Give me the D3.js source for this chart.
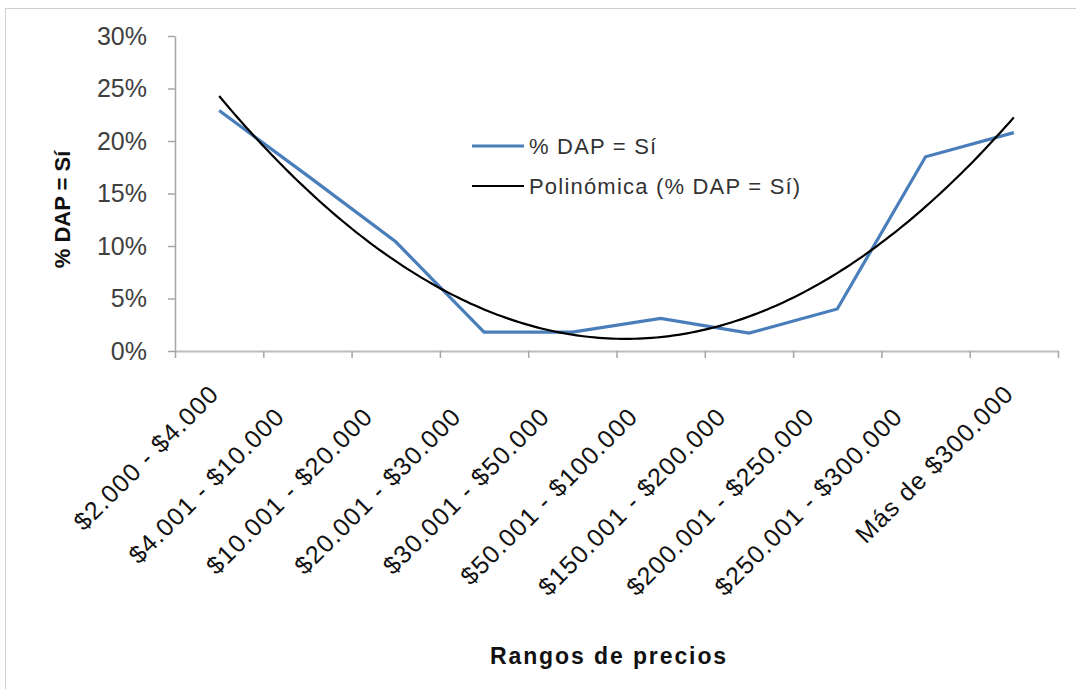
<!DOCTYPE html>
<html>
<head>
<meta charset="utf-8">
<script src="https://cdn.jsdelivr.net/npm/d3@7"></script>
<style>
  html, body { margin: 0; padding: 0; background: #fff; }
  svg { display: block; font-family: "Liberation Sans", Arial, sans-serif; }
</style>
</head>
<body>
<svg id="chart" width="1076" height="689"></svg>
<script>
const categories = ["$2.000 - $4.000", "$4.001 - $10.000", "$10.001 - $20.000", "$20.001 - $30.000",
  "$30.001 - $50.000", "$50.001 - $100.000", "$150.001 - $200.000", "$200.001 - $250.000",
  "$250.001 - $300.000", "Más de $300.000"];
const values = [22.9, 16.7, 10.4, 1.8, 1.8, 3.1, 1.7, 4.0, 18.5, 20.8];
const yTicks = [0, 5, 10, 15, 20, 25, 30];
const seriesName = "% DAP = Sí";
const trendName = "Polinómica (% DAP = Sí)";
const yTitle = "% DAP = Sí";
const xTitle = "Rangos de precios";

(function () {
const svg = d3.select("#chart");
const mLeft = 175, mRight = 1058, mTop = 36, mBottom = 351;

// outer frame
svg.append("rect").attr("x", 5.5).attr("y", 8.5).attr("width", 1090).attr("height", 700)
  .attr("fill", "none").attr("stroke", "#cfcfcf").attr("stroke-width", 1);

const x = d3.scaleBand().domain(categories).range([mLeft, mRight]).padding(0);
const y = d3.scaleLinear().domain([0, 30]).range([mBottom, mTop]);
const xEdge = d3.scaleLinear().domain([0, categories.length]).range([mLeft, mRight]);

// Y axis
const yAxis = svg.append("g").attr("transform", `translate(${mLeft},0)`)
  .call(d3.axisLeft(y).tickValues(yTicks).tickFormat(d => d + "%").tickSize(7).tickSizeOuter(0).tickPadding(21));
yAxis.select(".domain").attr("stroke", "#a6a6a6").attr("stroke-width", 1.5);
yAxis.selectAll(".tick line").attr("stroke", "#a6a6a6").attr("stroke-width", 1.5);
yAxis.selectAll(".tick text").attr("fill", "#404040").attr("font-size", 25)
  .attr("font-family", "'Liberation Sans', Arial, sans-serif");

// X axis (ticks between categories)
const xAxis = svg.append("g").attr("transform", `translate(0,${mBottom})`)
  .call(d3.axisBottom(xEdge).tickValues(d3.range(categories.length + 1)).tickFormat("").tickSize(7).tickSizeOuter(0));
xAxis.select(".domain").attr("stroke", "#bdbdbd").attr("stroke-width", 2);
xAxis.selectAll(".tick line").attr("stroke", "#a6a6a6").attr("stroke-width", 1.5);

// X labels rotated (longer labels sit further down their diagonal, as in the source)
const diag = d => (d.length > 15 ? 32 : 0) / Math.SQRT2;
svg.append("g").selectAll("text").data(categories).join("text")
  .attr("transform", d => `translate(${x(d) + x.bandwidth() / 2 - 5 - diag(d)},${389 + diag(d)}) rotate(-45)`)
  .attr("text-anchor", "end")
  .attr("dominant-baseline", "central")
  .attr("font-size", 25)
  .attr("letter-spacing", 1.2)
  .attr("fill", "#111")
  .text(d => d);

// Axis titles
svg.append("text")
  .attr("transform", `translate(70,${(mTop + mBottom) / 2 + 16}) rotate(-90)`)
  .attr("text-anchor", "middle")
  .attr("font-size", 22).attr("font-weight", "bold").attr("fill", "#111")
  .text(yTitle);
svg.append("text")
  .attr("x", 609).attr("y", 664)
  .attr("text-anchor", "middle")
  .attr("font-size", 23).attr("font-weight", "bold").attr("letter-spacing", 1.9).attr("fill", "#111")
  .text(xTitle);

// Data line
const pts = categories.map((c, i) => [x(c) + x.bandwidth() / 2, y(values[i])]);
svg.append("path").datum(pts)
  .attr("d", d3.line())
  .attr("fill", "none").attr("stroke", "#4a7ebb").attr("stroke-width", 3.2)
  .attr("stroke-linejoin", "miter");

// Quadratic least-squares trend (Excel "Polinómica" order 2) computed from the data
const n = values.length;
const xs = d3.range(1, n + 1);
const S = k => d3.sum(xs, v => Math.pow(v, k));
const Sy = k => d3.sum(xs, (v, i) => Math.pow(v, k) * values[i]);
const A = [[n, S(1), S(2), Sy(0)], [S(1), S(2), S(3), Sy(1)], [S(2), S(3), S(4), Sy(2)]];
for (let i = 0; i < 3; i++) {
  for (let j = i + 1; j < 3; j++) {
    const f = A[j][i] / A[i][i];
    for (let k = i; k < 4; k++) A[j][k] -= f * A[i][k];
  }
}
const coef = [0, 0, 0];
for (let i = 2; i >= 0; i--) {
  let s = A[i][3];
  for (let k = i + 1; k < 3; k++) s -= A[i][k] * coef[k];
  coef[i] = s / A[i][i];
}
const xi = d3.scaleLinear().domain([1, n]).range([pts[0][0], pts[n - 1][0]]);
const trend = d3.range(1, n + 0.0001, 0.05).map(t => [xi(t), y(coef[0] + coef[1] * t + coef[2] * t * t)]);
svg.append("path").datum(trend)
  .attr("d", d3.line())
  .attr("fill", "none").attr("stroke", "#000").attr("stroke-width", 2.2);

// Legend
const legend = svg.append("g");
const items = [{ name: seriesName, color: "#4a7ebb", w: 3, y: 146 }, { name: trendName, color: "#000", w: 2.2, y: 186 }];
items.forEach(it => {
  legend.append("line").attr("x1", 472).attr("x2", 524).attr("y1", it.y).attr("y2", it.y)
    .attr("stroke", it.color).attr("stroke-width", it.w);
  legend.append("text").attr("x", 529).attr("y", it.y).attr("dominant-baseline", "central")
    .attr("font-size", 22).attr("letter-spacing", 1.2).attr("fill", "#333").text(it.name);
});
})();
</script>
</body>
</html>
